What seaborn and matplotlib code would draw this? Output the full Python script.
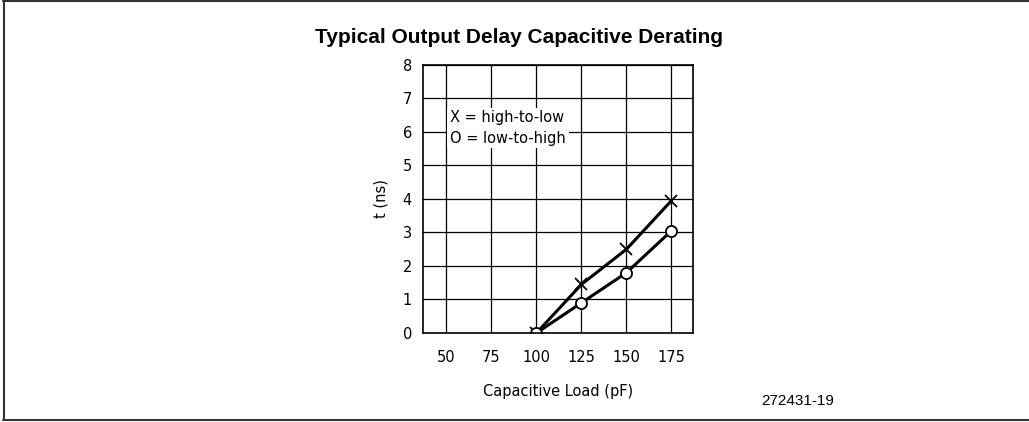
import numpy as np
import pandas as pd
import matplotlib
matplotlib.use("Agg")
import matplotlib.pyplot as plt
import seaborn as sns
from matplotlib.lines import Line2D

# Typical output delay vs capacitive load
load_pf = [100, 125, 150, 175]
high_to_low = [0.0, 1.45, 2.5, 3.95]
low_to_high = [0.0, 0.9, 1.8, 3.05]
x_ticks = [50, 75, 100, 125, 150, 175]
y_ticks = [0, 1, 2, 3, 4, 5, 6, 7, 8]

df = pd.DataFrame({
    "load": load_pf * 2,
    "t": high_to_low + low_to_high,
    "dir": ["high-to-low"] * 4 + ["low-to-high"] * 4,
})

sns.set_style("white")
plt.rcParams["font.family"] = ["DejaVu Sans"]
plt.rcParams["text.color"] = "black"
plt.rcParams["axes.labelcolor"] = "black"
plt.rcParams["xtick.color"] = "black"
plt.rcParams["ytick.color"] = "black"

fig = plt.figure(figsize=(10.29, 4.22), dpi=100)
ax = fig.add_axes([0.4111, 0.2109, 0.2624, 0.6351])

sns.lineplot(data=df[df["dir"] == "high-to-low"], x="load", y="t", ax=ax,
             color="black", linewidth=2.2, marker="x", markersize=8,
             markeredgewidth=1.3, markeredgecolor="black")
sns.lineplot(data=df[df["dir"] == "low-to-high"], x="load", y="t", ax=ax,
             color="black", linewidth=2.2, marker="o", markersize=8,
             markerfacecolor="white", markeredgewidth=1.3, markeredgecolor="black")

ax.set_xlim(37, 187)
ax.set_ylim(0, 8)
ax.set_xticks(x_ticks)
ax.set_yticks(y_ticks)
ax.grid(True, color="black", linewidth=0.9)
ax.tick_params(length=0, labelsize=10.5, pad=8)
ax.tick_params(axis="x", pad=12)
for s in ax.spines.values():
    s.set_color("black")
    s.set_linewidth(1.2)
ax.set_xlabel("Capacitive Load (pF)", fontsize=10.5, labelpad=14)
ax.set_ylabel("t (ns)", fontsize=10.5, labelpad=10)

ax.text(52, 6.12, "X = high-to-low\nO = low-to-high", fontsize=10.5,
        va="center", ha="left", linespacing=1.45,
        bbox=dict(facecolor="white", edgecolor="none", pad=2))

fig.text(0.504, 0.912, "Typical Output Delay Capacitive Derating",
         ha="center", va="center", fontsize=15, fontweight="bold",
         family="Liberation Sans")
fig.text(0.775, 0.05, "272431-19", ha="center", va="center", fontsize=11,
         family="Liberation Sans")

# page frame
for xs, ys in [([0.003, 1.0], [0.997, 0.997]), ([0.003, 1.0], [0.005, 0.005]),
               ([0.004, 0.004], [0.005, 0.997])]:
    fig.add_artist(Line2D(xs, ys, color="#333333", linewidth=1.5,
                          transform=fig.transFigure))

fig.savefig("out.png", dpi=100)
